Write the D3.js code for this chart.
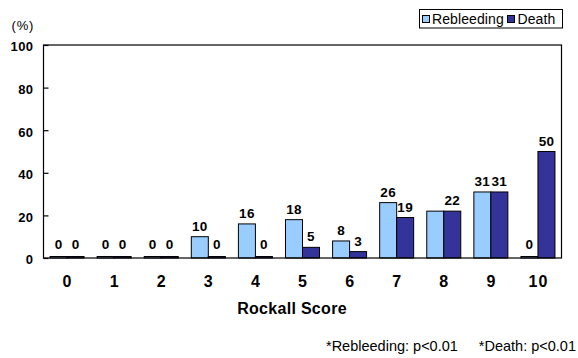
<!DOCTYPE html>
<html><head><meta charset="utf-8">
<script src="https://cdn.jsdelivr.net/npm/d3@7"></script>
<style>
body{margin:0;background:#fff}
svg{display:block}
text{font-family:Arial,"Liberation Sans",Helvetica,sans-serif;fill:#000}
</style>
</head><body>
<svg id="c" width="578" height="358"></svg>
<script>
const categories = ["0","1","2","3","4","5","6","7","8","9","10"];
const seriesNames = ["Rebleeding","Death"];
const rebleeding = [0,0,0,10,16,18,8,26,22,31,0];
const death = [0,0,0,0,0,5,3,19,22,31,50];
const rebleedingLabels = ["0","0","0","10","16","18","8","26","","31","0"];
const deathLabels = ["0","0","0","0","0","5","3","19","22","31","50"];
const yTicks = [0,20,40,60,80,100];
const colors = ["#99ccff","#333399"];
const xTitle = "Rockall Score";
const yUnit = "(%)";
const footnote1 = "*Rebleeding: p<0.01";
const footnote2 = "*Death: p<0.01";

const svg = d3.select("#c");
const mLeft = 43.5, mRight = 561.5, mTop = 45, mBottom = 258;

const x0 = d3.scaleBand().domain(categories).range([mLeft, mRight]);
const x1 = d3.scaleBand().domain(seriesNames).range([0, x0.bandwidth()]).paddingOuter(0.385);
const y = d3.scaleLinear().domain([0, 100]).range([mBottom, mTop]);

const seriesValues = [rebleeding, death];
const seriesLabels = [rebleedingLabels, deathLabels];

const rows = [];
categories.forEach((c, i) => {
  seriesNames.forEach((s, j) => {
    rows.push({c, s, j, v: seriesValues[j][i], label: seriesLabels[j][i]});
  });
});

svg.append("g").selectAll("rect").data(rows).join("rect")
  .attr("x", d => x0(d.c) + x1(d.s))
  .attr("width", x1.bandwidth())
  .attr("y", d => Math.min(y(d.v), y(0) - 1.5))
  .attr("height", d => Math.max(y(0) - y(d.v), 1.5))
  .attr("fill", d => colors[d.j])
  .attr("stroke", "#000")
  .attr("stroke-width", 1);

svg.append("rect")
  .attr("x", mLeft).attr("y", mTop)
  .attr("width", mRight - mLeft).attr("height", mBottom - mTop)
  .attr("fill", "none").attr("stroke", "#000").attr("stroke-width", 1.2);

const ya = svg.append("g").attr("transform", `translate(${mLeft},0)`)
  .call(d3.axisLeft(y).tickValues(yTicks).tickSizeInner(-5).tickSizeOuter(0).tickPadding(10));
ya.select(".domain").remove();
ya.selectAll(".tick line").attr("stroke", "#000").attr("stroke-width", 1.2);
ya.selectAll("text").attr("font-size", 13).attr("font-weight", "bold")
  .attr("letter-spacing", "0.4px").attr("dy", "0.45em").attr("font-family", "Arial, 'Liberation Sans', sans-serif");

const xa = svg.append("g").attr("transform", `translate(0,${mBottom})`)
  .call(d3.axisBottom(x0).tickSize(0).tickPadding(18));
xa.select(".domain").remove();
xa.selectAll("text").attr("font-size", 16).attr("font-weight", "bold")
  .attr("letter-spacing", "1.2px").attr("dx", "0.6px").attr("font-family", "Arial, 'Liberation Sans', sans-serif");

svg.append("g").selectAll("text").data(rows.filter(d => d.label !== "")).join("text")
  .attr("x", d => x0(d.c) + x1(d.s) + x1.bandwidth() / 2)
  .attr("y", d => d.v === 0 ? y(0) - 9 : y(d.v) - 6)
  .attr("text-anchor", "middle")
  .attr("font-size", 13.5).attr("font-weight", "bold").attr("letter-spacing", "0.3px")
  .text(d => d.label);

svg.append("text").attr("x", 292).attr("y", 313.5).attr("text-anchor", "middle")
  .attr("font-size", 16).attr("font-weight", "bold").attr("letter-spacing", "0.3px")
  .text(xTitle);

svg.append("text").attr("x", 11.5).attr("y", 29.5)
  .attr("font-size", 13).attr("letter-spacing", "0.8px").text(yUnit);

const lg = svg.append("g");
lg.append("rect").attr("x", 419.5).attr("y", 9.5).attr("width", 143).attr("height", 18.5)
  .attr("fill", "#fff").attr("stroke", "#000").attr("stroke-width", 1);
const legendX = [{sw: 422.5, tx: 432}, {sw: 507.5, tx: 517.5}];
seriesNames.forEach((s, j) => {
  lg.append("rect").attr("x", legendX[j].sw).attr("y", 15.5).attr("width", 7).attr("height", 7)
    .attr("fill", colors[j]).attr("stroke", "#000").attr("stroke-width", 1);
  lg.append("text").attr("x", legendX[j].tx).attr("y", 23.5)
    .attr("font-size", 14).attr("letter-spacing", "0.1px").text(s);
});

svg.append("text").attr("x", 326).attr("y", 351).attr("font-size", 14.5).text(footnote1);
svg.append("text").attr("x", 576).attr("y", 351).attr("text-anchor", "end").attr("font-size", 14.5).text(footnote2);
</script>
</body></html>
